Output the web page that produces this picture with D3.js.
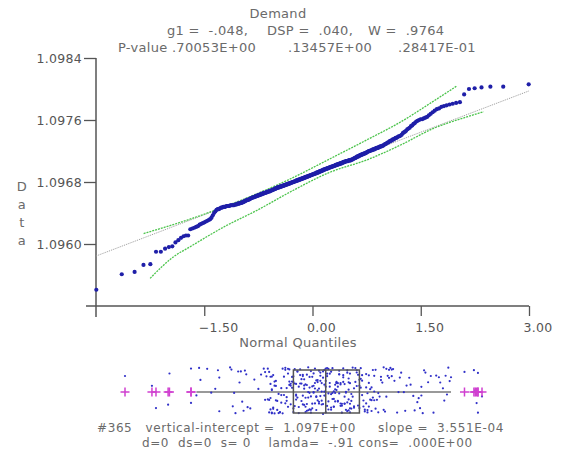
<!DOCTYPE html>
<html>
<head>
<meta charset="utf-8">
<script src="https://cdn.jsdelivr.net/npm/d3@7"></script>
<style>
  body { margin: 0; background: #fff; }
  svg { display: block; font-family: "DejaVu Sans", sans-serif; }
  .txt { fill: #6a6a6a; font-size: 13px; letter-spacing: 0.3px; white-space: pre; }
  .foot { font-size: 12px; letter-spacing: 0.6px; }
  .tick text { fill: #555; font-size: 12.5px; letter-spacing: 0.3px; }
</style>
</head>
<body>
<svg width="562" height="455"></svg>
<script>
var demand = [
1.09541,1.09561,1.09564,1.09573,1.09574,1.09590,1.09590,1.09594,1.09596,1.09597,
1.09602,1.09605,1.09608,1.09610,1.09611,1.09611,1.09619,1.09620,1.09621,1.09622,
1.09623,1.09625,1.09626,1.09627,1.09628,1.09629,1.09630,1.09631,1.09632,1.09634,
1.09637,1.09640,1.09642,1.09644,1.09645,1.09645,1.09646,1.09647,1.09647,1.09648,
1.09648,1.09648,1.09649,1.09649,1.09649,1.09649,1.09650,1.09650,1.09650,1.09650,
1.09650,1.09651,1.09651,1.09651,1.09652,1.09652,1.09652,1.09653,1.09653,1.09653,
1.09654,1.09654,1.09655,1.09655,1.09656,1.09656,1.09657,1.09657,1.09657,1.09658,
1.09658,1.09659,1.09659,1.09660,1.09660,1.09660,1.09661,1.09661,1.09661,1.09662,
1.09662,1.09662,1.09663,1.09663,1.09663,1.09664,1.09664,1.09664,1.09665,1.09665,
1.09665,1.09666,1.09666,1.09666,1.09666,1.09667,1.09667,1.09667,1.09668,1.09668,
1.09668,1.09668,1.09669,1.09669,1.09669,1.09670,1.09670,1.09670,1.09671,1.09671,
1.09671,1.09672,1.09672,1.09672,1.09673,1.09673,1.09673,1.09673,1.09674,1.09674,
1.09674,1.09674,1.09675,1.09675,1.09675,1.09675,1.09676,1.09676,1.09676,1.09676,
1.09677,1.09677,1.09677,1.09677,1.09678,1.09678,1.09678,1.09678,1.09679,1.09679,
1.09679,1.09679,1.09680,1.09680,1.09680,1.09680,1.09681,1.09681,1.09681,1.09681,
1.09682,1.09682,1.09682,1.09682,1.09683,1.09683,1.09683,1.09683,1.09684,1.09684,
1.09684,1.09684,1.09685,1.09685,1.09685,1.09685,1.09686,1.09686,1.09686,1.09686,
1.09687,1.09687,1.09687,1.09687,1.09688,1.09688,1.09688,1.09688,1.09689,1.09689,
1.09689,1.09689,1.09690,1.09690,1.09690,1.09690,1.09691,1.09691,1.09691,1.09691,
1.09692,1.09692,1.09692,1.09692,1.09693,1.09693,1.09693,1.09694,1.09694,1.09694,
1.09694,1.09695,1.09695,1.09695,1.09696,1.09696,1.09696,1.09696,1.09697,1.09697,
1.09697,1.09697,1.09698,1.09698,1.09698,1.09698,1.09699,1.09699,1.09699,1.09699,
1.09700,1.09700,1.09700,1.09700,1.09701,1.09701,1.09701,1.09701,1.09702,1.09702,
1.09702,1.09702,1.09703,1.09703,1.09703,1.09703,1.09704,1.09704,1.09704,1.09704,
1.09705,1.09705,1.09705,1.09706,1.09706,1.09706,1.09706,1.09707,1.09707,1.09707,
1.09707,1.09707,1.09708,1.09708,1.09708,1.09708,1.09708,1.09709,1.09709,1.09709,
1.09710,1.09710,1.09711,1.09711,1.09711,1.09712,1.09712,1.09713,1.09713,1.09713,
1.09714,1.09714,1.09715,1.09715,1.09715,1.09716,1.09716,1.09716,1.09717,1.09717,
1.09717,1.09718,1.09718,1.09719,1.09719,1.09720,1.09720,1.09720,1.09721,1.09721,
1.09721,1.09722,1.09722,1.09722,1.09723,1.09723,1.09724,1.09724,1.09724,1.09725,
1.09725,1.09726,1.09726,1.09726,1.09727,1.09727,1.09728,1.09729,1.09729,1.09730,
1.09731,1.09731,1.09732,1.09733,1.09733,1.09734,1.09735,1.09735,1.09736,1.09737,
1.09737,1.09738,1.09739,1.09739,1.09740,1.09741,1.09743,1.09744,1.09745,1.09746,
1.09748,1.09749,1.09750,1.09752,1.09753,1.09755,1.09756,1.09758,1.09759,1.09760,
1.09761,1.09761,1.09762,1.09763,1.09764,1.09766,1.09768,1.09770,1.09772,1.09774,
1.09775,1.09777,1.09778,1.09779,1.09780,1.09781,1.09782,1.09783,1.09793,1.09800,
1.09801,1.09802,1.09803,1.09803,1.09806
];

// fitted line (intercept, slope)
var fitIntercept = 1.09691;
var fitSlope = 3.551e-4;

// confidence envelopes: normal quantile -> data value
var upperZ = [-2.34, -1.69, -1.00, -0.31, 0.25, 0.75, 1.22, 1.68, 2.00];
var upperV = [1.096135, 1.096323, 1.096561, 1.096839, 1.097103, 1.097342, 1.097574, 1.097845, 1.098039];
var lowerZ = [-2.25, -1.93, -1.69, -1.23, -0.76, -0.31, 0.25, 0.75, 1.22, 1.68, 2.15, 2.37];
var lowerV = [1.095557, 1.095832, 1.095968, 1.096219, 1.096439, 1.096671, 1.096929, 1.097084, 1.097277, 1.097493, 1.097643, 1.097707];

var yTicks = [1.0960, 1.0968, 1.0976, 1.0984];
var xTicks = [-1.5, 0, 1.5, 3];

var titleLines = ["Demand"];
var statLine = [["g1 =  -.048,", 167], ["DSP =  .040,", 267], ["W =  .9764", 368]];
var pLine = [["P-value .70053E+00", 118], [".13457E+00", 288], [".28417E-01", 398]];
var footLines = ["#365   vertical-intercept =  1.097E+00     slope =  3.551E-04",
                 "d=0  ds=0  s= 0    lamda=  -.91 cons=  .000E+00"];

// inverse normal cdf (Acklam)
function qnorm(p) {
  var a = [-3.969683028665376e+01, 2.209460984245205e+02, -2.759285104469687e+02, 1.383577518672690e+02, -3.066479806614716e+01, 2.506628277459239e+00];
  var b = [-5.447609879822406e+01, 1.615858368580409e+02, -1.556989798598866e+02, 6.680131188771972e+01, -1.328068155288572e+01];
  var c = [-7.784894002430293e-03, -3.223964580411365e-01, -2.400758277161838e+00, -2.549671013732011e+00, 4.374664141464968e+00, 2.938163982698783e+00];
  var d = [7.784695709041462e-03, 3.224671290700398e-01, 2.445134137142996e+00, 3.754408661907416e+00];
  var q, r;
  if (p < 0.02425) {
    q = Math.sqrt(-2 * Math.log(p));
    return (((((c[0]*q+c[1])*q+c[2])*q+c[3])*q+c[4])*q+c[5]) / ((((d[0]*q+d[1])*q+d[2])*q+d[3])*q+1);
  }
  if (p > 1 - 0.02425) {
    q = Math.sqrt(-2 * Math.log(1 - p));
    return -(((((c[0]*q+c[1])*q+c[2])*q+c[3])*q+c[4])*q+c[5]) / ((((d[0]*q+d[1])*q+d[2])*q+d[3])*q+1);
  }
  q = p - 0.5; r = q * q;
  return (((((a[0]*r+a[1])*r+a[2])*r+a[3])*r+a[4])*r+a[5])*q / (((((b[0]*r+b[1])*r+b[2])*r+b[3])*r+b[4])*r+1);
}

// integer hash -> [0,1), used only to spread the strip-plot dots vertically
function spread(i) {
  var h = Math.imul(i ^ (i >>> 16), 0x45d9f3b);
  h = Math.imul(h ^ (h >>> 16), 0x45d9f3b);
  h ^= h >>> 16;
  return (h >>> 0) / 4294967296;
}

var svg = d3.select("svg");
svg.append("rect").attr("width", 562).attr("height", 455).attr("fill", "#fff");

var sorted = demand.slice().sort(d3.ascending);
var n = sorted.length;
var pts = sorted.map(function(v, i) { return {z: qnorm((i + 0.5) / n), v: v}; });

var x = d3.scaleLinear().domain([-3, 3]).range([96, 529]);
var y = d3.scaleLinear().domain([1.0952, 1.0984]).range([306, 58]);

// titles
svg.append("text").attr("class", "txt").attr("x", 278).attr("y", 18)
    .attr("text-anchor", "middle").text(titleLines[0]);
svg.selectAll(".stat").data(statLine).enter().append("text")
    .attr("class", "txt stat").attr("x", function(d) { return d[1]; }).attr("y", 35)
    .text(function(d) { return d[0]; });
svg.selectAll(".pval").data(pLine).enter().append("text")
    .attr("class", "txt pval").attr("x", function(d) { return d[1]; }).attr("y", 52)
    .text(function(d) { return d[0]; });

// y label, letters stacked
svg.selectAll(".ylab").data("Data".split("")).enter().append("text")
    .attr("class", "txt ylab").attr("x", 22).attr("text-anchor", "middle")
    .attr("y", function(d, i) { return 191 + i * 18; })
    .text(function(d) { return d; });

// axes
var yAxis = d3.axisLeft(y).tickValues(yTicks).tickFormat(d3.format(".4f")).tickSize(12).tickPadding(2);
var gy = svg.append("g").attr("transform", "translate(96,0)").call(yAxis);
var xAxis = d3.axisBottom(x).tickValues(xTicks).tickFormat(d3.format(".2f")).tickSize(10).tickPadding(7);
var gx = svg.append("g").attr("transform", "translate(0,306)").call(xAxis);
gx.selectAll(".tick text").attr("text-anchor", "start").attr("x", -6);
[gx, gy].forEach(function(g) {
  g.select(".domain").remove();
  g.selectAll(".tick line").attr("stroke", "#555").attr("stroke-width", 1.3);
  g.selectAll(".tick text").style("font-family", "DejaVu Sans");
});
svg.append("line").attr("x1", 96).attr("x2", 96).attr("y1", y(1.0984)).attr("y2", 317)
    .attr("stroke", "#555").attr("stroke-width", 1.5);
svg.append("line").attr("x1", 86).attr("x2", x(3)).attr("y1", 306).attr("y2", 306)
    .attr("stroke", "#555").attr("stroke-width", 1.5);

svg.append("text").attr("class", "txt").attr("x", 298).attr("y", 347)
    .attr("text-anchor", "middle").text("Normal Quantiles");

// fitted line
svg.append("line")
    .attr("x1", x(-3)).attr("y1", y(fitIntercept + fitSlope * -3))
    .attr("x2", x(3)).attr("y2", y(fitIntercept + fitSlope * 3))
    .attr("stroke", "#999").attr("stroke-width", 1).attr("stroke-dasharray", "1,1");

// envelopes
var band = d3.line().x(function(d) { return x(d[0]); }).y(function(d) { return y(d[1]); })
    .curve(d3.curveMonotoneX);
[[upperZ, upperV], [lowerZ, lowerV]].forEach(function(b) {
  svg.append("path").datum(d3.zip(b[0], b[1])).attr("d", band)
      .attr("fill", "none").attr("stroke", "#4cc44c").attr("stroke-width", 1.3)
      .attr("stroke-dasharray", "2,1");
});

// points
svg.append("g").selectAll("circle").data(pts).enter().append("circle")
    .attr("cx", function(d) { return x(d.z); })
    .attr("cy", function(d) { return y(d.v); })
    .attr("r", 2.1).attr("fill", "#1f1fa8");

// box plot below
var bx = d3.scaleLinear().domain(d3.extent(sorted)).range([125, 482]);
var q1 = d3.quantile(sorted, 0.25), med = d3.quantile(sorted, 0.5), q3 = d3.quantile(sorted, 0.75);
var iqr = q3 - q1, lo = q1 - 1.5 * iqr, hi = q3 + 1.5 * iqr;
var inside = sorted.filter(function(v) { return v >= lo && v <= hi; });
var outliers = sorted.filter(function(v) { return v < lo || v > hi; });
var midY = 392, boxTop = 370, boxBot = 413;

svg.append("line").attr("x1", bx(d3.min(inside))).attr("x2", bx(d3.max(inside)))
    .attr("y1", midY).attr("y2", midY).attr("stroke", "#777").attr("stroke-width", 1.5);

svg.append("g").selectAll("circle").data(sorted).enter().append("circle")
    .attr("cx", function(d) { return bx(d); })
    .attr("cy", function(d, i) { return 367 + 47 * spread(i + 1); })
    .attr("r", 1.1).attr("fill", "#3030c8");

svg.append("rect").attr("x", bx(q1)).attr("y", boxTop)
    .attr("width", bx(q3) - bx(q1)).attr("height", boxBot - boxTop)
    .attr("fill", "none").attr("stroke", "#555").attr("stroke-width", 1.5);
svg.append("line").attr("x1", bx(med)).attr("x2", bx(med)).attr("y1", boxTop).attr("y2", boxBot)
    .attr("stroke", "#555").attr("stroke-width", 1.5);

svg.append("g").selectAll("path").data(outliers).enter().append("path")
    .attr("d", function(d) { var cx = bx(d); return "M" + (cx - 4.5) + "," + midY + "H" + (cx + 4.5) + "M" + cx + "," + (midY - 4.5) + "V" + (midY + 4.5); })
    .attr("stroke", "#d040d0").attr("stroke-width", 1.5).attr("fill", "none");

// footer
svg.append("text").attr("class", "txt foot").attr("x", 97).attr("y", 432).text(footLines[0]);
svg.append("text").attr("class", "txt foot").attr("x", 142).attr("y", 447).text(footLines[1]);
</script>
</body>
</html>
